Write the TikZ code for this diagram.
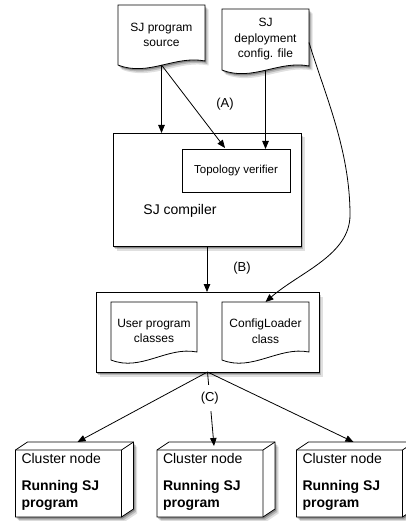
\documentclass[tikz,border=0pt]{standalone}
\usepackage{fontspec}
\setmainfont{Liberation Sans}
\usetikzlibrary{arrows.meta,calc,shadows}
\pgfdeclarelayer{bg}
\pgfdeclarelayer{mid}
\pgfsetlayers{bg,mid,main}
\newcommand{\wavydoc}[3]{%
  \draw[#3] (#1.north west) -- (#1.north east) -- ($(#1.south east)+(0,-#2)$)
    .. controls ($(#1.south east)+(-30,-#2-6)$) and ($(#1.south west)+(30,12)$) ..
    (#1.south west) -- cycle;}
\newcommand{\cubebox}[1]{%
  \draw[shapeline] (#1.north west) -- ($(#1.north west)+(12,-8)$) -- ($(#1.north east)+(12,-8)$)
    -- ($(#1.south east)+(12,-8)$) -- (#1.south east) -- (#1.south west) -- cycle;
  \draw[plainline] (#1.north west) -- (#1.north east) -- (#1.south east)
    (#1.north east) -- ($(#1.north east)+(12,-8)$);}
\begin{document}
\begin{tikzpicture}[x=1pt,y=-1pt,
  every node/.style={inner sep=0pt, outer sep=0pt},
  shd/.style={drop shadow={shadow xshift=3.5pt,shadow yshift=-4.5pt,opacity=.12,fill=black},
              drop shadow={shadow xshift=2.3pt,shadow yshift=-3pt,opacity=.18,fill=black},
              drop shadow={shadow xshift=1.2pt,shadow yshift=-1.6pt,opacity=.28,fill=black}},
  plainline/.style={draw=black, line width=0.8pt},
  shapeline/.style={plainline, fill=white, shd},
  flatshape/.style={plainline, fill=white},
  txt/.style={font=\fontsize{12}{15.5}\selectfont, align=center},
  lbl/.style={font=\fontsize{13}{15}\selectfont},
  ctext/.style={font=\fontsize{14}{17}\selectfont, align=left, anchor=north west},
  arr/.style={line width=0.8pt, -{Triangle[length=8pt,width=6.5pt]}},
]
\useasboundingbox (0,0) rectangle (406,521);

% top documents
\node[minimum width=87pt, minimum height=60pt, txt] (src) at (161.5,35) {SJ program\\source};
\node[minimum width=87pt, minimum height=61pt, txt] (cfgfile) at (265.5,39.5) {SJ\\deployment\\config. file};

% compiler
\node[minimum width=188pt, minimum height=113pt] (comp) at (207,189.5) {};
\node[minimum width=108pt, minimum height=43pt, font=\fontsize{11.5}{14}\selectfont] (ver) at (236,170.5) {Topology verifier};
\node[font=\fontsize{14}{17}\selectfont] (compl) at (180,211) {SJ compiler};

% package
\node[minimum width=223pt, minimum height=80pt] (pkg) at (207.5,332) {};
\node[minimum width=86pt, minimum height=58pt, txt] (upc) at (154,331) {User program\\classes};
\node[minimum width=87pt, minimum height=58pt, txt] (cl) at (265.5,331) {ConfigLoader\\class};

% cluster nodes
\node[minimum width=106pt, minimum height=67pt] (n1) at (68.5,483.5) {};
\node[minimum width=106pt, minimum height=67pt] (n2) at (210,483.5) {};
\node[minimum width=106pt, minimum height=67pt] (n3) at (349.5,483.5) {};
\node[ctext] (t1) at ($(n1.north west)+(6,3)$) {Cluster node\\[10pt]\textbf{Running SJ}\\\textbf{program}};
\node[ctext] (t2) at ($(n2.north west)+(6,3)$) {Cluster node\\[10pt]\textbf{Running SJ}\\\textbf{program}};
\node[ctext] (t3) at ($(n3.north west)+(6,3)$) {Cluster node\\[10pt]\textbf{Running SJ}\\\textbf{program}};

% labels
\node[lbl] (lblA) at (225,104) {(A)};
\node[lbl] (lblB) at (242,268) {(B)};

% shapes
\begin{pgfonlayer}{bg}
  \draw[shapeline] (comp.north west) rectangle (comp.south east);
  \draw[shapeline] (pkg.north west) rectangle (pkg.south east);
\end{pgfonlayer}
\begin{pgfonlayer}{mid}
  \draw[flatshape] (ver.north west) rectangle (ver.south east);
  \wavydoc{src}{4}{shapeline}
  \wavydoc{cfgfile}{4}{shapeline}
  \wavydoc{upc}{8}{flatshape}
  \wavydoc{cl}{8}{flatshape}
  \cubebox{n1}
  \cubebox{n2}
  \cubebox{n3}
\end{pgfonlayer}

% connectors
\draw[arr] (src.south) -- (src.south |- comp.north);
\draw[arr] (src.south) -- ($(ver.north)+(-11,-1)$);
\draw[arr] (cfgfile.south) -- (cfgfile.south |- ver.north);
\draw[arr] (comp.south) -- (comp.south |- pkg.north);
\draw[arr] ($(cfgfile.east)+(0,3)$) .. controls (325,95) and (350,150) .. (350,215)
  .. controls (350,255) and (300,272) .. (cl.north);
\draw[arr] (pkg.south) -- ($(n1.north)+(9,-8)$);
\draw[arr] (pkg.south) -- ($(n2.north)+(4,-4)$)
  node[pos=.35, lbl, fill=white, inner xsep=2pt, inner ysep=7pt] (lblC) {(C)};
\draw[arr] (pkg.south) -- ($(n3.north)+(4,-8)$);
\end{tikzpicture}
\end{document}
